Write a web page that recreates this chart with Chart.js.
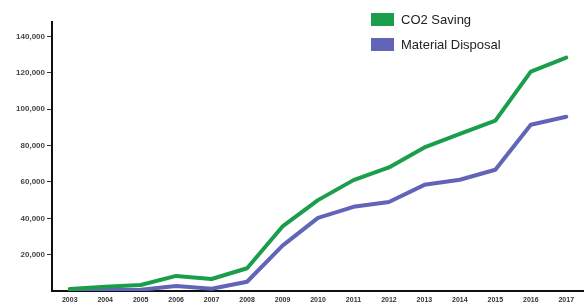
<!DOCTYPE html>
<html>
<head>
<meta charset="utf-8">
<script src="https://cdn.jsdelivr.net/npm/chart.js@4/dist/chart.umd.min.js"></script>
<style>
  html, body { margin: 0; padding: 0; background: #fff; }
  #wrap { position: relative; width: 584px; height: 306px; }
  #legend { position: absolute; left: 371px; top: 13px; font-family: "Liberation Sans Narrow", "Liberation Sans", Arial, sans-serif; font-size: 13px; color: #222; }
  .item { display: flex; align-items: center; height: 13px; margin-bottom: 12px; }
  .sw { width: 23px; height: 13px; margin-right: 7px; }
</style>
</head>
<body>
<div id="wrap">
  <canvas id="c" width="584" height="306"></canvas>
  <div id="legend"></div>
</div>
<script>
const years = ["2003","2004","2005","2006","2007","2008","2009","2010","2011","2012","2013","2014","2015","2016","2017"];
const co2Saving = [1100, 2400, 3300, 8300, 6600, 12500, 35500, 50000, 61000, 68000, 79000, 86500, 93700, 120700, 128400];
const materialDisposal = [300, 500, 700, 2700, 1200, 5100, 25000, 40200, 46300, 49000, 58400, 61200, 66700, 91500, 95900];
const yTicks = [20000, 40000, 60000, 80000, 100000, 120000, 140000];
const seriesNames = ["CO2 Saving", "Material Disposal"];
const seriesColors = ["#1b9e4b", "#6264b8"];

const legend = document.getElementById('legend');
seriesNames.forEach((n, i) => {
  const d = document.createElement('div');
  d.className = 'item';
  d.innerHTML = '<span class="sw" style="background:' + seriesColors[i] + '"></span><span>' + n + '</span>';
  legend.appendChild(d);
});

new Chart(document.getElementById('c'), {
  type: 'line',
  data: {
    labels: years,
    datasets: [
      { label: seriesNames[1], data: materialDisposal, borderColor: seriesColors[1], backgroundColor: seriesColors[1], borderWidth: 4, pointRadius: 0, tension: 0, borderJoinStyle: 'round', borderCapStyle: 'round', order: 2 },
      { label: seriesNames[0], data: co2Saving, borderColor: seriesColors[0], backgroundColor: seriesColors[0], borderWidth: 4, pointRadius: 0, tension: 0, borderJoinStyle: 'round', borderCapStyle: 'round', order: 1 }
    ]
  },
  options: {
    responsive: false,
    animation: false,
    layout: { padding: { top: 22, right: 0, left: 0, bottom: 0 } },
    plugins: { legend: { display: false }, tooltip: { enabled: false } },
    scales: {
      x: {
        offset: true,
        afterFit: (s) => { s.height = 15; },
        grid: { display: false, drawTicks: false },
        border: { display: true, color: '#111', width: 2 },
        ticks: { color: '#333', font: { family: 'Liberation Sans Narrow, Liberation Sans, sans-serif', size: 7, weight: 'bold' }, padding: 5, maxRotation: 0, autoSkip: false }
      },
      y: {
        min: 0,
        max: 148000,
        afterBuildTicks: (s) => { s.ticks = yTicks.map(v => ({ value: v })); },
        afterFit: (s) => { s.width = 52; },
        grid: { drawOnChartArea: false, drawTicks: true, tickLength: 5, color: '#333' },
        border: { display: true, color: '#111', width: 2 },
        ticks: {
          color: '#444',
          font: { family: 'Liberation Sans Narrow, Liberation Sans, sans-serif', size: 8, weight: 'bold' },
          padding: 2,
          callback: (v) => v.toLocaleString('en-US')
        }
      }
    }
  }
});
</script>
</body>
</html>
